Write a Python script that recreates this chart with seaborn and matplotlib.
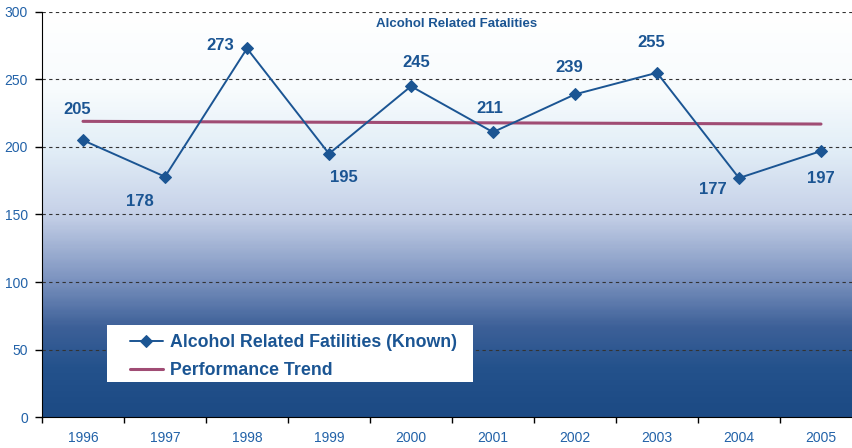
import numpy as np
import pandas as pd
from matplotlib import pyplot as plt
from matplotlib.colors import LinearSegmentedColormap
from matplotlib.patches import Rectangle
import seaborn as sns

years = ['1996', '1997', '1998', '1999', '2000', '2001', '2002', '2003', '2004', '2005']
fatalities = [205, 178, 273, 195, 245, 211, 239, 255, 177, 197]
# performance trend, read at first and last year
trend_years = ['1996', '2005']
trend_values = [219, 217]

# label offsets (points) relative to each marker
label_dx = [-4, -18, -19, 11, 4, -2, -4, -4, -19, 0]
label_dy = [22, -18, 2, -17, 17, 17, 19, 22, -8, -20]

navy = '#1b5593'
tick_blue = '#2262a8'
trend_col = '#a04c74'

sns.set_style('white')
plt.rcParams['font.family'] = ['Liberation Sans', 'DejaVu Sans']

fig = plt.figure(figsize=(8.52, 4.48), dpi=100)
ax = fig.add_axes([42 / 852, 31 / 448, 820 / 852, 405 / 448])

# gradient background
grad = LinearSegmentedColormap.from_list('bg', [
    (0.0, '#1c4a84'), (0.12, '#24528c'), (0.22, '#3d6098'),
    (0.34, '#7d94c0'), (0.5, '#c6d1e8'), (0.66, '#e2eef7'),
    (0.8, '#f7fbfd'), (1.0, '#ffffff')])
ax.imshow(np.linspace(0, 1, 300).reshape(-1, 1), cmap=grad, origin='lower',
          extent=(-0.5, 9.5, 0, 300), aspect='auto', zorder=0)

df = pd.DataFrame({'pos': np.arange(len(years)), 'value': fatalities})
tdf = pd.DataFrame({'pos': [years.index(y) for y in trend_years], 'value': trend_values})

sns.lineplot(data=tdf, x='pos', y='value', ax=ax, color=trend_col, lw=2.2,
             label='Performance Trend', zorder=3)
sns.lineplot(data=df, x='pos', y='value', ax=ax, color=navy, lw=1.4, marker='D',
             markersize=6, markeredgecolor=navy, label='Alcohol Related Fatilities (Known)',
             zorder=4)

for i, v in enumerate(fatalities):
    ax.annotate(str(v), (i, v), xytext=(label_dx[i], label_dy[i]), textcoords='offset points',
                ha='center', va='center', fontsize=12, fontweight='bold', color=navy)

ax.set_xlim(-0.5, 9.5)
ax.set_ylim(0, 300)
ax.set_yticks(range(0, 301, 50))
ax.set_xticks(np.arange(-0.5, 9.6, 1))
ax.set_xticklabels([])
ax.set_xticks(np.arange(len(years)), minor=True)
ax.set_xticklabels(years, minor=True)
ax.tick_params(axis='x', which='major', direction='out', length=4, width=1, color='black', bottom=True)
ax.tick_params(axis='x', which='minor', length=0, pad=10, labelsize=10, labelcolor=tick_blue)
ax.tick_params(axis='y', direction='out', length=5, width=1, color='black', left=True,
               pad=5, labelsize=10, labelcolor=tick_blue)

for y in range(50, 301, 50):
    ax.axhline(y, color='#333333', lw=0.8, ls=(0, (3, 3)), zorder=1)

ax.set_xlabel('')
ax.set_ylabel('')
sns.despine(ax=ax, top=True, right=True)
ax.spines['left'].set_color('black')
ax.spines['bottom'].set_color('black')

fig.text(457 / 852, 1 - 24 / 448, 'Alcohol Related Fatalities', ha='center', va='center',
         fontsize=9.5, fontweight='bold', color=navy)

# white legend box
ax.add_patch(Rectangle((107 / 852, 1 - 382 / 448), 366 / 852, 57 / 448,
                       transform=fig.transFigure, facecolor='white', edgecolor='none',
                       zorder=5))

handles, labels = ax.get_legend_handles_labels()
leg = ax.legend(handles[::-1], labels[::-1], loc='upper left',
                bbox_to_anchor=(130 / 852, 1 - 334 / 448),
                bbox_transform=fig.transFigure, borderaxespad=0, borderpad=0,
                fontsize=12.8, frameon=False, labelspacing=0.62,
                handlelength=1.85, handletextpad=0.4)
leg.set_zorder(6)
for t in leg.get_texts():
    t.set_color(navy)
    t.set_fontweight('bold')

fig.savefig('out.png', dpi=100)
